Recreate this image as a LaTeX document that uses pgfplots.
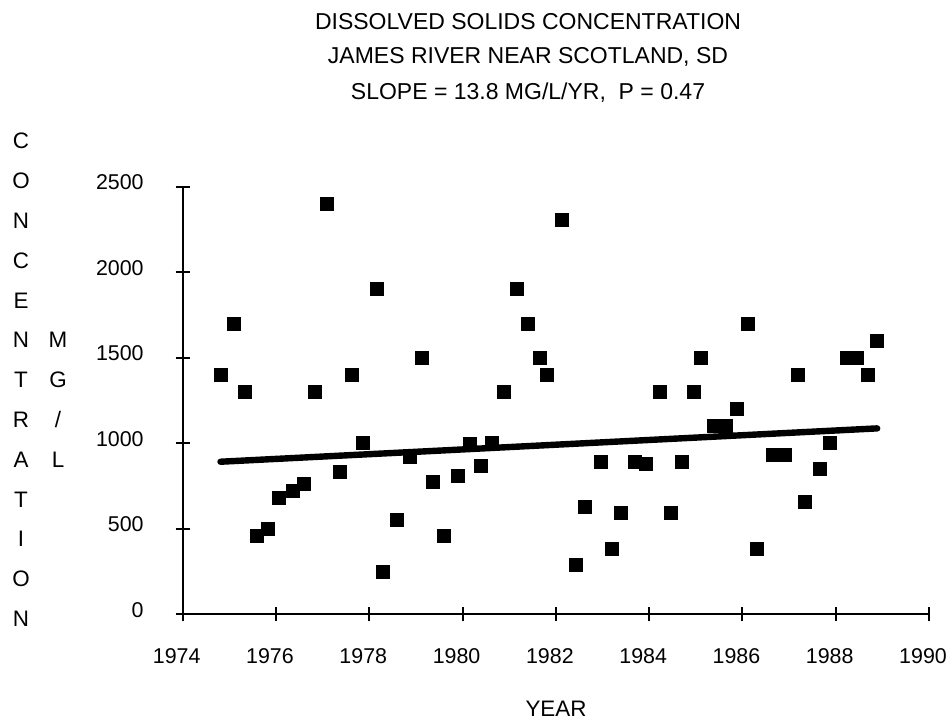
\documentclass[border=0pt]{standalone}
\usepackage{fontspec}
\setmainfont{Liberation Sans}
\usepackage{pgfplots}
\pgfplotsset{compat=1.18}
\begin{document}
\begin{tikzpicture}
\path[use as bounding box] (-91.35pt,-54.85pt) rectangle (383.15pt,307.15pt);
\begin{axis}[
 at={(0pt,0pt)}, anchor=south west,
 scale only axis, width=373.15pt, height=213.8pt,
 xmin=1974, xmax=1990, ymin=0, ymax=2500,
 axis lines=left, axis line style={-, line width=1pt, black},
 xtick={1974,1976,...,1990}, ytick={0,500,...,2500},
 tick align=center, major tick length=7pt, tick style={line width=1pt, black},
 minor tick num=0,
 /pgf/number format/1000 sep={}, /pgf/number format/assume math mode=true,
 tick label style={font=\fontsize{10.7}{12}\selectfont},
 xticklabel style={inner sep=0pt, anchor=north, yshift=-13.6pt, xshift=-3pt},
 yticklabel style={inner sep=0pt, anchor=east, xshift=-15.85pt, yshift=2.25pt},
 clip=false,
]
\addplot[only marks, mark=square*, mark size=3.25pt, black] table {
x y
1974.81 1400
1975.10 1700
1975.34 1300
1975.59 460
1975.82 500
1976.07 680
1976.37 720
1976.60 760
1976.84 1300
1977.09 2400
1977.38 830
1977.62 1400
1977.86 1000
1978.16 1900
1978.30 250
1978.60 550
1978.88 920
1979.13 1500
1979.37 775
1979.61 460
1979.91 810
1980.15 995
1980.39 865
1980.63 1000
1980.88 1300
1981.17 1900
1981.41 1700
1981.65 1500
1981.80 1400
1982.14 2305
1982.44 290
1982.63 630
1982.96 890
1983.21 380
1983.40 590
1983.69 890
1983.94 880
1984.22 1300
1984.47 590
1984.71 890
1984.95 1300
1985.10 1500
1985.39 1100
1985.64 1100
1985.88 1200
1986.12 1700
1986.32 380
1986.66 930
1986.90 930
1987.19 1400
1987.33 660
1987.67 850
1987.87 1000
1988.25 1500
1988.45 1500
1988.69 1400
1988.89 1600
};
\addplot[black, line width=3.2pt, line cap=round, no marks] coordinates {(1974.81,892) (1988.89,1087)};
\end{axis}
\begin{scope}[font=\fontsize{11.5}{13.8}\selectfont]
\node[anchor=base, inner sep=0pt] at (172.65pt,292.15pt) {DISSOLVED SOLIDS CONCENTRATION};
\node[anchor=base, inner sep=0pt] at (172.65pt,275.5pt) {JAMES RIVER NEAR SCOTLAND, SD};
\node[anchor=base, inner sep=0pt] at (172.65pt,257.15pt) {SLOPE = 13.8 MG/L/YR,\ \ P = 0.47};
\end{scope}
\begin{scope}[font=\fontsize{11.2}{13.4}\selectfont]
\foreach \l [count=\k from 0] in {C,O,N,C,E,N,T,R,A,T,I,O,N}
  \node[anchor=base, inner sep=0pt] at (-80.85pt, {232.65pt-19.9pt*\k}) {\l};
\foreach \l [count=\k from 5] in {M,G,/,L}
  \node[anchor=base, inner sep=0pt] at (-62.35pt, {232.65pt-19.9pt*\k}) {\l};
\node[anchor=base, inner sep=0pt] at (186.65pt,-50.85pt) {YEAR};
\end{scope}
\end{tikzpicture}
\end{document}
